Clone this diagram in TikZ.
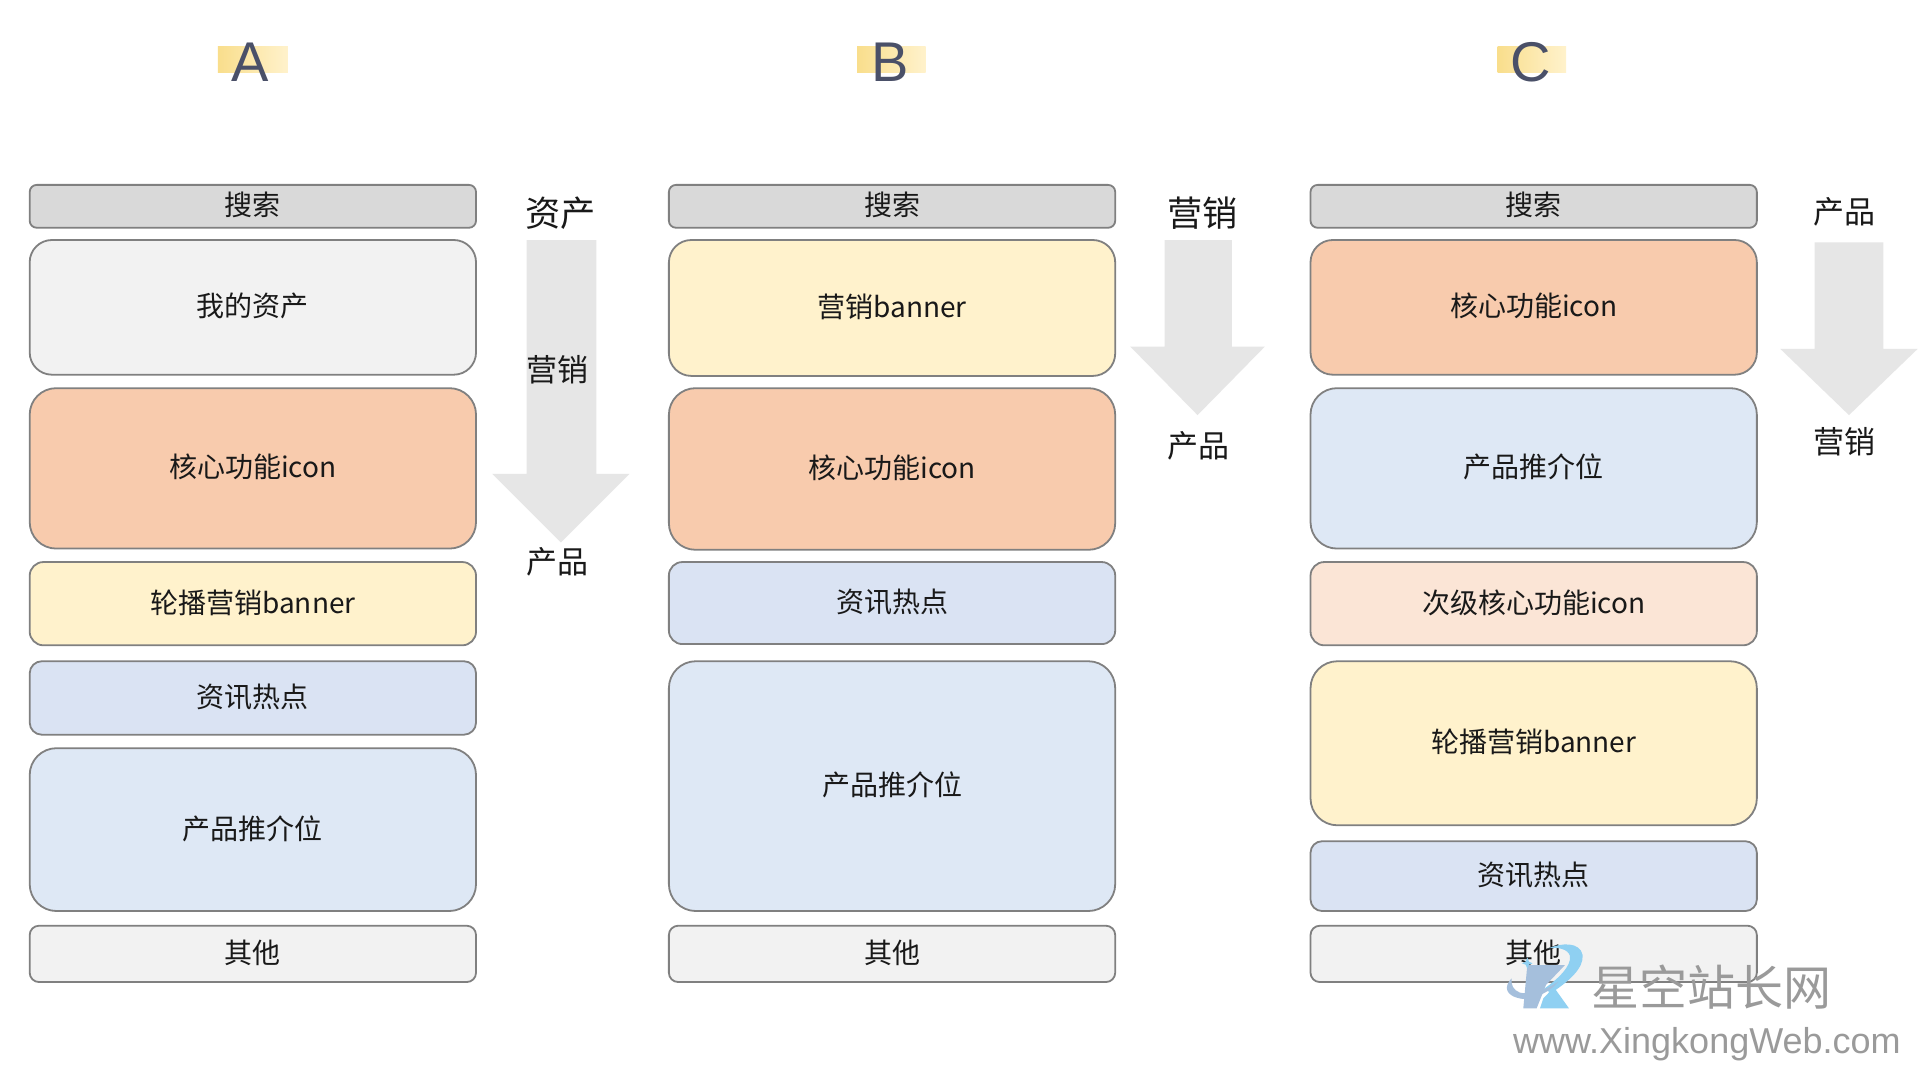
\documentclass[tikz,border=0pt]{standalone}
\usepackage{fontspec}
\setmainfont{Noto Sans CJK SC}
\newfontfamily\latinf{Liberation Sans}
\definecolor{cSearch}{HTML}{D9D9D9}
\definecolor{cOther}{HTML}{F2F2F2}
\definecolor{cCore}{HTML}{F8CBAD}
\definecolor{cBanner}{HTML}{FFF2CC}
\definecolor{cNews}{HTML}{DAE3F3}
\definecolor{cProd}{HTML}{DEE8F5}
\definecolor{cSec}{HTML}{FBE5D6}
\definecolor{cArrow}{HTML}{E6E6E6}
\definecolor{cLine}{HTML}{808080}
\definecolor{cHead}{HTML}{4A5068}
\definecolor{cMark}{HTML}{9A9A9A}
\definecolor{cLogoA}{HTML}{8FD0F2}
\definecolor{cLogoB}{HTML}{A5BFDC}
\definecolor{cSwatch}{HTML}{F9DE8C}
\tikzset{
  panel/.style={draw=cLine,line width=0.9pt,minimum width=364.5*0.61224pt,inner sep=0pt,
     font=\fontsize{14pt}{16pt}\selectfont,text=black!90},
  sidelabel/.style={inner sep=0pt,text=black!90,font=\fontsize{15.5pt}{18pt}\selectfont},
  sidelabelbig/.style={inner sep=0pt,text=black!90,font=\fontsize{17.6pt}{20pt}\selectfont},
  letter/.style={inner sep=0pt,text=cHead,font=\latinf\fontsize{28pt}{32pt}\selectfont},
  bigarrow/.style={fill=cArrow,draw=none}
}
% name, x centre, top, bottom, fill, text
\newcommand{\panelbox}[6]{%
  \pgfmathsetmacro{\pbh}{#4-#3}%
  \pgfmathsetmacro{\pbr}{min(22,0.165*\pbh)}%
  \node[panel,fill=#5,minimum height=\pbh*0.61224pt,rounded corners=\pbr*0.61224pt]
     (#1) at (#2,{(#3+#4)/2}) {\raisebox{2.4pt}{#6}};}
\begin{document}
\begin{tikzpicture}[x=0.61224pt,y=-0.61224pt]
\useasboundingbox (0,0) rectangle (1568,882);
\fill[white] (0,0) rectangle (1568,882);

% headings
\fill[left color=cSwatch,right color=cBanner] (178,38) rectangle (235,59);
\fill[left color=cSwatch,right color=cBanner] (700,38) rectangle (756,59);
\fill[left color=cSwatch,right color=cBanner] (1223,38) rectangle (1279,59);
\node[letter] (hA) at (204,51) {A};
\node[letter] (hB) at (727,51) {B};
\node[letter] (hC) at (1250,51) {C};

% column A
\panelbox{a1}{206.5}{151}{186}{cSearch}{搜索}
\panelbox{a2}{206.5}{196}{306}{cOther}{我的资产}
\panelbox{a3}{206.5}{317}{448}{cCore}{核心功能icon}
\panelbox{a4}{206.5}{459}{527}{cBanner}{轮播营销banner}
\panelbox{a5}{206.5}{540}{600}{cNews}{资讯热点}
\panelbox{a6}{206.5}{611}{744}{cProd}{产品推介位}
\panelbox{a7}{206.5}{756}{802}{cOther}{其他}

% column B
\panelbox{b1}{728.5}{151}{186}{cSearch}{搜索}
\panelbox{b2}{728.5}{196}{307}{cBanner}{营销banner}
\panelbox{b3}{728.5}{317}{449}{cCore}{核心功能icon}
\panelbox{b4}{728.5}{459}{526}{cNews}{资讯热点}
\panelbox{b5}{728.5}{540}{744}{cProd}{产品推介位}
\panelbox{b6}{728.5}{756}{802}{cOther}{其他}

% column C
\panelbox{c1}{1252.5}{151}{186}{cSearch}{搜索}
\panelbox{c2}{1252.5}{196}{306}{cCore}{核心功能icon}
\panelbox{c3}{1252.5}{317}{448}{cProd}{产品推介位}
\panelbox{c4}{1252.5}{459}{527}{cSec}{次级核心功能icon}
\panelbox{c5}{1252.5}{540}{674}{cBanner}{轮播营销banner}
\panelbox{c6}{1252.5}{687}{744}{cNews}{资讯热点}
\panelbox{c7}{1252.5}{756}{802}{cOther}{其他}

% block arrows
\fill[bigarrow] (430,196) -- (487,196) -- (487,387) -- (514,387) -- (458,443) -- (402,387) -- (430,387) -- cycle;
\fill[bigarrow] (951,196) -- (1006,196) -- (1006,283) -- (1033,283) -- (978,339) -- (923,283) -- (951,283) -- cycle;
\fill[bigarrow] (1482,198) -- (1538,198) -- (1538,285) -- (1566,285) -- (1510,339) -- (1454,285) -- (1482,285) -- cycle;

% arrow labels
\node[sidelabelbig] (la1) at (458,174) {资产};
\node[sidelabel] (la2) at (455,302) {营销};
\node[sidelabel] (la3) at (455,459) {产品};
\node[sidelabelbig] (lb1) at (982,174) {营销};
\node[sidelabel] (lb2) at (979,364) {产品};
\node[sidelabel] (lc1) at (1506,173) {产品};
\node[sidelabel] (lc2) at (1506,361) {营销};

% watermark
\begin{scope}[shift={(1216.8,759.5)},scale=0.2722]
  \fill[cLogoA] (175,55) .. controls (215,38) and (270,35) .. (278,75)
     .. controls (282,115) and (235,155) .. (185,188)
     -- (160,178) .. controls (200,150) and (245,110) .. (240,78)
     .. controls (235,58) and (205,50) .. (175,55) -- cycle;
  \fill[cLogoB] (112,105) -- (225,105) -- (168,165) -- (140,235) -- (100,235) -- cycle;
  \fill[cLogoA] (150,235) -- (160,205) -- (192,172) -- (237,235) -- cycle;
  \fill[cLogoB] (65,145) .. controls (40,170) and (45,200) .. (100,207)
     .. controls (140,205) and (180,185) .. (205,155)
     .. controls (170,180) and (120,195) .. (90,188)
     .. controls (70,180) and (62,165) .. (65,145) -- cycle;
  \fill[cLogoA] (112,82) -- (117,95) -- (128,100) -- (117,104) -- (112,116) -- (107,104) -- (96,100) -- (107,95) -- cycle;
\end{scope}
\node[inner sep=0pt,text=cMark,font=\fontsize{24pt}{28pt}\selectfont] (wm1) at (1398,806) {星空站长网};
\node[inner sep=0pt,text=cMark,font=\latinf\fontsize{18pt}{22pt}\selectfont] (wm2) at (1394,853) {www.XingkongWeb.com};
\end{tikzpicture}
\end{document}
